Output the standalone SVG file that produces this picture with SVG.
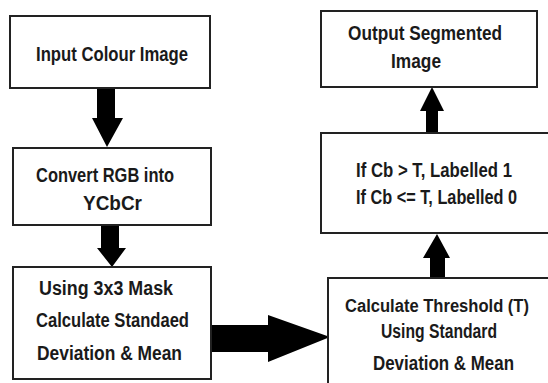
<svg xmlns="http://www.w3.org/2000/svg" width="548" height="383" viewBox="0 0 548 383">
<style>
.box{fill:#fff;stroke:#222;stroke-width:2}
.t{font-family:"Liberation Sans",Arial,sans-serif;font-weight:bold;font-size:19.5px;fill:#1a1a1a}
.arr{fill:#000}
</style>
<rect width="548" height="383" fill="#fff"/>
<g id="connectors">
<polygon class="arr" points="97,88 115,88 115,118 123,118 107,147 92,118 97,118"/>
<polygon class="arr" points="101,225 119,225 119,248 126,248 112,267 97,248 101,248"/>
<polygon class="arr" points="208,325 268,325 268,315 330,337 268,362 268,352 208,352"/>
<polygon class="arr" points="430,278 445,278 445,258 450,258 437,234 423,258 430,258"/>
<polygon class="arr" points="426,133 438,133 438,111 444,111 432,87 420,111 426,111"/>
</g>
<g id="input">
<rect class="box" x="10" y="16" width="200" height="72"/>
<text class="t" x="36" y="61" textLength="152" lengthAdjust="spacingAndGlyphs">Input Colour Image</text>
</g>
<g id="convert">
<rect class="box" x="13" y="148" width="198" height="77"/>
<text class="t" x="36" y="182" textLength="138" lengthAdjust="spacingAndGlyphs">Convert RGB into</text>
<text class="t" x="83" y="210" textLength="59" lengthAdjust="spacingAndGlyphs">YCbCr</text>
</g>
<g id="mask">
<rect class="box" x="13" y="267" width="198" height="112"/>
<text class="t" x="39" y="295" textLength="134" lengthAdjust="spacingAndGlyphs">Using 3x3 Mask</text>
<text class="t" x="36" y="327" textLength="153" lengthAdjust="spacingAndGlyphs">Calculate Standaed</text>
<text class="t" x="37" y="360" textLength="145" lengthAdjust="spacingAndGlyphs">Deviation &amp; Mean</text>
</g>
<g id="threshold">
<path class="box" d="M548,278 H328 V383"/>
<text class="t" x="345" y="312" font-size="18" style="font-size:18px" textLength="184" lengthAdjust="spacingAndGlyphs">Calculate Threshold (T)</text>
<text class="t" x="381" y="338" textLength="116" lengthAdjust="spacingAndGlyphs">Using Standard</text>
<text class="t" x="373" y="370" textLength="141" lengthAdjust="spacingAndGlyphs">Deviation &amp; Mean</text>
</g>
<g id="label">
<path class="box" d="M548,133 H321 V233 H548"/>
<text class="t" x="356" y="177" textLength="156" lengthAdjust="spacingAndGlyphs">If Cb &gt; T, Labelled 1</text>
<text class="t" x="356" y="204" textLength="161" lengthAdjust="spacingAndGlyphs">If Cb &lt;= T, Labelled 0</text>
</g>
<g id="output">
<rect class="box" x="321" y="11" width="216" height="76"/>
<text class="t" x="348" y="40" textLength="154" lengthAdjust="spacingAndGlyphs">Output Segmented</text>
<text class="t" x="391" y="68" textLength="50" lengthAdjust="spacingAndGlyphs">Image</text>
</g>
</svg>
